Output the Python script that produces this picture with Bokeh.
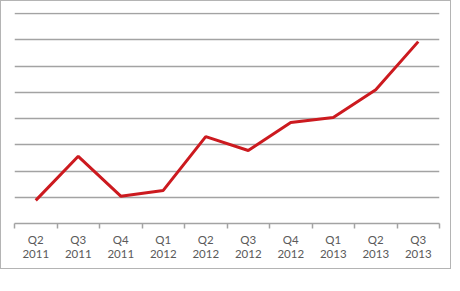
from bokeh.plotting import figure
from bokeh.models import FixedTicker, Range1d
from bokeh.embed import file_html
from bokeh.resources import INLINE

quarters = ["Q2", "Q3", "Q4", "Q1", "Q2", "Q3", "Q4", "Q1", "Q2", "Q3"]
years = ["2011", "2011", "2011", "2012", "2012", "2012", "2012", "2013", "2013", "2013"]
values = [0.88, 2.56, 1.04, 1.26, 3.31, 2.78, 3.85, 4.04, 5.10, 6.93]
y_grid = [1, 2, 3, 4, 5, 6, 7, 8]

n = len(values)
xs = [i + 0.5 for i in range(n)]

p = figure(width=451, height=269, output_backend="svg", toolbar_location=None,
           x_range=Range1d(0, n), y_range=Range1d(0, 8.04),
           min_border_left=13, min_border_right=13, min_border_top=11, min_border_bottom=47,
           styles={"border": "1px solid #b4b4b4"})
p.outline_line_color = None
p.background_fill_color = "white"
p.border_fill_color = "white"

p.line(xs, values, line_color="#cc1a1f", line_width=3)

p.yaxis.visible = False
p.yaxis.ticker = FixedTicker(ticks=y_grid)
p.ygrid.grid_line_color = "#a3a3a3"
p.ygrid.grid_line_width = 1.5
p.xgrid.grid_line_color = None

xa = p.xaxis[0]
xa.ticker = FixedTicker(ticks=xs, minor_ticks=list(range(n + 1)))
xa.major_label_overrides = {x: f"{q}\n{y}" for x, q, y in zip(xs, quarters, years)}
xa.major_tick_line_color = None
xa.major_tick_out = 0
xa.major_tick_in = 0
xa.minor_tick_line_color = "#a3a3a3"
xa.minor_tick_line_width = 1.5
xa.minor_tick_out = 5
xa.minor_tick_in = 0
xa.axis_line_color = "#a3a3a3"
xa.axis_line_width = 1.5
xa.major_label_text_font = "Lato"
xa.major_label_text_font_size = "11.5px"
xa.major_label_text_color = "#5a5a5a"
xa.major_label_text_line_height = 1.15
xa.major_label_standoff = 4

open("out.html", "w").write(file_html(p, INLINE))
